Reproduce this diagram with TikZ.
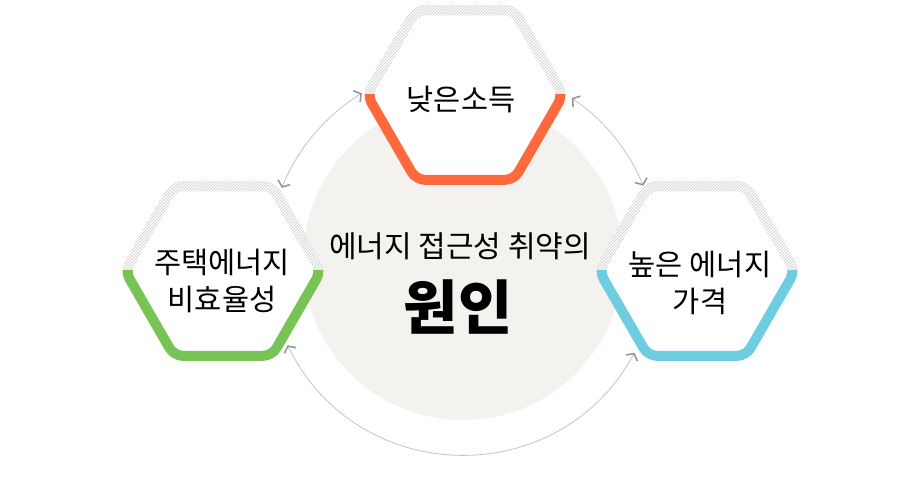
\documentclass[tikz,border=0pt]{standalone}
\usepackage{fontspec}
\newfontfamily\kofont{Noto Sans CJK KR}
\usetikzlibrary{arrows.meta,patterns}

\definecolor{lowinc}{RGB}{255,105,60}
\definecolor{housing}{RGB}{120,195,85}
\definecolor{price}{RGB}{110,205,225}
\definecolor{corefill}{RGB}{243,242,238}
\definecolor{linkgray}{RGB}{195,195,195}
\definecolor{tipgray}{RGB}{150,150,150}

\tikzset{
  barb/.tip={Straight Barb[length=5pt,width=13pt,line width=1.6pt,color=tipgray]},
  link/.style={draw=linkgray,line width=0.8pt,barb-barb},
  hexlabel/.style={font=\kofont\fontsize{29.5}{37}\selectfont,align=center,inner sep=0pt},
  coretop/.style={font=\kofont\fontsize{30}{35}\selectfont,inner sep=0pt},
  corebig/.style={font=\kofont\bfseries\fontsize{59}{64}\selectfont,inner sep=0pt}
}

\newcommand{\hexline}[1]{(0:#1) -- (60:#1) -- (120:#1) -- (180:#1) -- (240:#1) -- (300:#1) -- cycle}

% hexagon: white inside, hatched upper half, coloured lower half
\newcommand{\hexframe}[2]{%
  \begin{scope}[shift={(#1)}]
    \fill[white,rounded corners=12pt] \hexline{104};
    \begin{scope}
      \clip (-120,0) rectangle (120,100);
      \fill[pattern=north east lines,pattern color=black!22,rounded corners=12pt] \hexline{104};
    \end{scope}
    \fill[white,rounded corners=6pt] \hexline{92};
    \begin{scope}
      \clip (-120,0) rectangle (120,-100);
      \draw[#2,line width=10pt,rounded corners=9pt] \hexline{98};
    \end{scope}
  \end{scope}}

\begin{document}
\begin{tikzpicture}[x=1pt,y=1pt]
  \useasboundingbox (0,0) rectangle (920,493);

  \coordinate (core) at (463,233);
  \coordinate (low) at (465,398);
  \coordinate (house) at (223,222);
  \coordinate (cost) at (697,222);

  \fill[corefill] (core) circle[radius=160];

  \hexframe{low}{lowinc}
  \hexframe{house}{housing}
  \hexframe{cost}{price}

  % arrow ends on the outer ring
  \coordinate (r1) at ([shift={(158.3:195)}]core);
  \coordinate (r2) at ([shift={(121.2:195)}]core);
  \coordinate (r3) at ([shift={(56.1:195)}]core);
  \coordinate (r4) at ([shift={(22.4:195)}]core);
  \coordinate (r5) at ([shift={(205.9:195)}]core);
  \coordinate (r6) at ([shift={(331.6:195)}]core);

  \draw[link] (r1) to[bend left=18.5,looseness=0.87] (r2);
  \draw[link] (r3) to[bend left=16.9,looseness=0.87] (r4);
  \draw[link] (r5) to[bend right=62.8,looseness=1.17] (r6);

  \node[hexlabel] (lowtxt) at (461,394) {낮은소득};
  \node[hexlabel] (housetxt) at (222,212) {주택에너지\\비효율성};
  \node[hexlabel] (costtxt) at (700,210) {높은 에너지\\가격};
  \node[coretop] (coretxt) at (460,247) {에너지 접근성 취약의};
  \node[corebig] (cause) at (458,186) {원인};

\end{tikzpicture}
\end{document}
